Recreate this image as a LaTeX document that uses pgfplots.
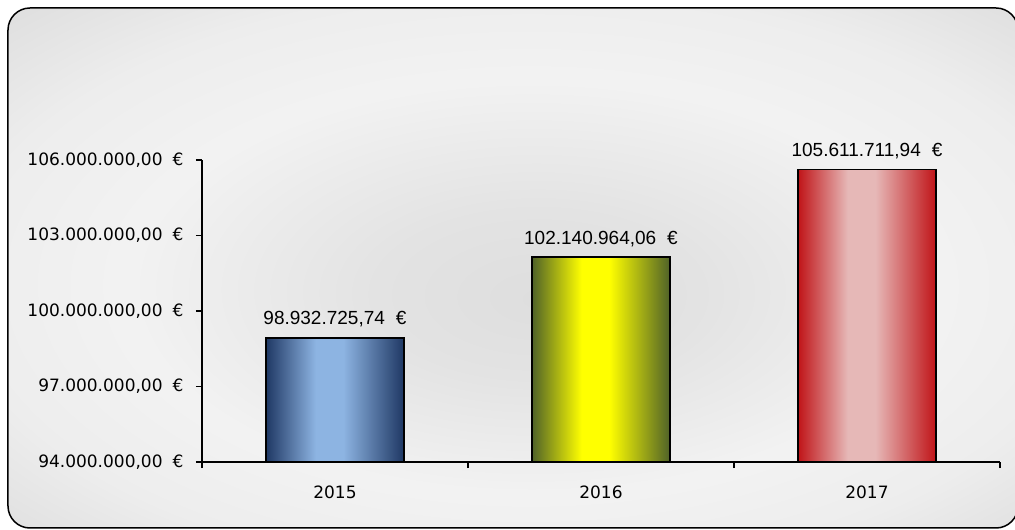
\documentclass[border=0pt]{standalone}
\usepackage{fontspec}
\setmainfont{Liberation Sans}
\newfontfamily\tickfont{DejaVu Sans}
\usepackage{pgfplots}
\pgfplotsset{compat=1.18}

\definecolor{bluedark}{RGB}{31,56,100}
\definecolor{bluelight}{RGB}{141,180,226}
\definecolor{yeldark}{RGB}{79,98,40}
\definecolor{yellight}{RGB}{255,255,0}
\definecolor{reddark}{RGB}{192,20,24}
\definecolor{redlight}{RGB}{230,184,183}

\pgfdeclarehorizontalshading{blueshade}{100bp}{color(0bp)=(bluedark); color(25bp)=(bluedark); color(43bp)=(bluelight); color(53bp)=(bluelight); color(75bp)=(bluedark); color(100bp)=(bluedark)}
\pgfdeclarehorizontalshading{yelshade}{100bp}{color(0bp)=(yeldark); color(25bp)=(yeldark); color(43bp)=(yellight); color(53bp)=(yellight); color(75bp)=(yeldark); color(100bp)=(yeldark)}
\pgfdeclarehorizontalshading{redshade}{100bp}{color(0bp)=(reddark); color(25bp)=(reddark); color(43bp)=(redlight); color(53bp)=(redlight); color(75bp)=(reddark); color(100bp)=(reddark)}
\pgfdeclareradialshading{bgshade}{\pgfpoint{1.5bp}{-3bp}}{color(0bp)=(white!87!black); color(8bp)=(white!89!black); color(20bp)=(white!95!black); color(28bp)=(white!93!black); color(38bp)=(white!86!black); color(50bp)=(white!84!black)}

\begin{document}
\begin{tikzpicture}
\useasboundingbox (-202pt,-68pt) rectangle (813pt,462pt);
\shade[shading=bgshade, rounded corners=22pt, draw=black, line width=1.5pt] (-194pt,-66pt) rectangle (816pt,454pt);
\begin{axis}[
  at={(0pt,0pt)}, anchor=south west,
  scale only axis, width=798pt, height=302pt,
  xmin=-0.5, xmax=2.5, ymin=94, ymax=106,
  axis lines*=left,
  axis line style={line width=1.3pt, black},
  clip=false,
  ytick={94,97,100,103,106},
  yticklabels={{94.000.000,00\hspace{10pt}€},{97.000.000,00\hspace{10pt}€},{100.000.000,00\hspace{10pt}€},{103.000.000,00\hspace{10pt}€},{106.000.000,00\hspace{10pt}€}},
  yticklabel style={xshift=-9pt},
  xtick={-0.5,0.5,1.5,2.5}, xticklabels={},
  extra x ticks={0,1,2}, extra x tick labels={2015,2016,2017},
  extra x tick style={major tick length=0pt, xticklabel style={yshift=-20pt}},
  tick align=outside, major tick length=6pt,
  tick style={black, line width=1.3pt},
  tick label style={font=\tickfont\fontsize{17}{20}\selectfont},
  every node near coord/.append style={font=\fontsize{19}{22}\selectfont, inner sep=0pt, yshift=10pt, black},
]
\addplot[ybar, bar width=138pt, bar shift=0pt, draw=black, line width=1.3pt, shading=blueshade,
  nodes near coords={98.932.725,74\hspace{11pt}€}] coordinates {(0,98.93272574)};
\addplot[ybar, bar width=138pt, bar shift=0pt, draw=black, line width=1.3pt, shading=yelshade,
  nodes near coords={102.140.964,06\hspace{11pt}€}] coordinates {(1,102.14096406)};
\addplot[ybar, bar width=138pt, bar shift=0pt, draw=black, line width=1.3pt, shading=redshade,
  nodes near coords={105.611.711,94\hspace{11pt}€}] coordinates {(2,105.61171194)};
\end{axis}
\end{tikzpicture}
\end{document}
